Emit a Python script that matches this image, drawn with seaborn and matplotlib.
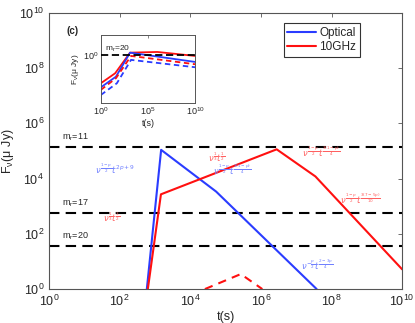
import pandas as pd
import seaborn as sns
import matplotlib.pyplot as plt

# main panel light curves (t in s, flux in micro Jy)
opt_t = [590, 1500, 5.4e4, 3.8e7]
opt_F = [1, 1.1e5, 3.4e3, 1]
rad_t = [630, 1480, 2.8e6, 3.5e7, 1e10]
rad_F = [1, 2.7e3, 1.15e5, 1.2e4, 5.2]
rad2_t = [2.6e4, 2.7e5, 1.1e6]
rad2_F = [1, 3.5, 1]

# limiting magnitudes (AB) -> flux
mags = [11, 17, 20]
mag_F = [3.631e9 * 10 ** (-0.4 * m) for m in mags]

# inset curves
in_rad_t = [1, 33, 1260, 1e6, 1e10]
in_rad_F = [7.6e-5, 2.3e-3, 2.6, 3.3, 0.85]
in_opt_t = [1, 40, 1260, 1e10]
in_opt_F = [1.9e-5, 7.2e-4, 2.6, 0.11]
in_rad2_t = [1, 40, 1600, 1e10]
in_rad2_F = [7.9e-6, 4.2e-4, 0.85, 0.05]
in_opt2_t = [1, 50, 1600, 1e10]
in_opt2_F = [1.4e-6, 7.6e-5, 0.22, 0.018]

sns.set_style('white')
plt.rcParams['font.family'] = ['Liberation Sans', 'DejaVu Sans']
plt.rcParams['mathtext.fontset'] = 'dejavusans'

fig = plt.figure(figsize=(4.15, 3.23), dpi=100)
ax = fig.add_axes([0.118, 0.105, 0.851, 0.855])
ax.set_xscale('log')
ax.set_yscale('log')

blue = '#2a3cff'
red = '#ff1010'

sns.lineplot(x=opt_t, y=opt_F, ax=ax, color=blue, lw=1.5, sort=False, estimator=None)
sns.lineplot(x=rad_t, y=rad_F, ax=ax, color=red, lw=1.5, sort=False, estimator=None)
sns.lineplot(x=rad2_t, y=rad2_F, ax=ax, color=red, lw=1.5, ls=(0, (4, 3)), sort=False, estimator=None)

for m, f in zip(mags, mag_F):
    ax.axhline(f, color='black', lw=1.5, ls=(0, (5, 3)), zorder=1)
    ax.text(5.5, f * 1.35, '$\\mathregular{m_r}$=%d' % m, fontsize=6.5, va='bottom', ha='center')

ax.set_xlim(1, 1e10)
ax.set_ylim(1, 1e10)
ax.set_xticks([1e0, 1e2, 1e4, 1e6, 1e8, 1e10])
ax.set_yticks([1e0, 1e2, 1e4, 1e6, 1e8, 1e10])
ax.minorticks_off()
ax.tick_params(direction='in', top=True, right=True, labelsize=9, length=3, color='#555555', width=0.6)
for s in ax.spines.values():
    s.set_color('#555555')
    s.set_linewidth(0.8)
ax.set_xlabel('t(s)', fontsize=9, labelpad=1)
ax.set_ylabel('$\\mathregular{F_\\nu(\\mu\\ Jy)}$', fontsize=9, labelpad=2)

ax.text(0.05, 0.925, '(c)', transform=ax.transAxes, fontsize=7, fontweight='bold')

lb = '#7080ff'
lr = '#ff6060'
ax.text(2.0e1, 1.5e4, '$\\nu^{\\frac{1-p}{2}}t^{2p+9}$', color=lb, fontsize=6)
ax.text(3.3e1, 2.6e2, '$\\nu^{\\frac{1}{3}}t^{\\frac{3}{2}}$', color=lr, fontsize=6)
ax.text(3.1e4, 4.0e4, '$\\nu^{\\frac{1}{3}}t^{\\frac{1}{2}}$', color=lr, fontsize=6)
ax.text(4.5e4, 1.3e4, '$\\nu^{\\frac{1-p}{2}}t^{\\frac{3(1-p)}{4}}$', color=lb, fontsize=6)
ax.text(1.5e7, 6.0e4, '$\\nu^{\\frac{1-p}{2}}t^{\\frac{3(1-p)}{4}}$', color=lr, fontsize=6)
ax.text(1.7e8, 1.2e3, '$\\nu^{\\frac{1-p}{2}}t^{\\frac{3(7-5p)}{10}}$', color=lr, fontsize=6)
ax.text(1.4e7, 5.0e0, '$\\nu^{-\\frac{p}{2}}t^{\\frac{2-3p}{4}}$', color=lb, fontsize=6)

h1, = ax.plot([], [], color=blue, lw=1.5)
h2, = ax.plot([], [], color=red, lw=1.5)
leg = ax.legend([h1, h2], ['Optical', '10GHz'], loc='upper left', bbox_to_anchor=(0.665, 0.963),
                fontsize=8.5, frameon=True, fancybox=False, handlelength=2.4, handletextpad=0.3,
                borderpad=0.3, labelspacing=0.2, borderaxespad=0)
leg.get_frame().set_edgecolor('black')
leg.get_frame().set_linewidth(0.8)

# inset
ins = fig.add_axes([0.243, 0.682, 0.227, 0.209])
ins.set_xscale('log')
ins.set_yscale('log')
sns.lineplot(x=in_rad_t, y=in_rad_F, ax=ins, color=red, lw=1.3, sort=False, estimator=None)
sns.lineplot(x=in_opt_t, y=in_opt_F, ax=ins, color=blue, lw=1.3, sort=False, estimator=None)
sns.lineplot(x=in_rad2_t, y=in_rad2_F, ax=ins, color=red, lw=1.3, ls=(0, (3, 2)), sort=False, estimator=None)
sns.lineplot(x=in_opt2_t, y=in_opt2_F, ax=ins, color=blue, lw=1.3, ls=(0, (3, 2)), sort=False, estimator=None)
ins.axhline(1, color='black', lw=1.3, ls=(0, (4, 2)), zorder=5)
ins.text(3, 1.4, '$\\mathregular{m_r}$=20', fontsize=6, va='bottom', ha='left')
ins.set_xlim(1, 1e10)
ins.set_ylim(1e-7, 1e3)
ins.set_xticks([1e0, 1e5, 1e10])
ins.set_yticks([1e0])
ins.minorticks_off()
ins.tick_params(direction='in', top=True, right=True, labelsize=6.5, length=2, color='#555555', width=0.5, pad=2)
for s in ins.spines.values():
    s.set_color('#555555')
    s.set_linewidth(0.7)
ins.set_xlabel('t(s)', fontsize=6.5, labelpad=1)
ins.set_ylabel('$\\mathregular{F_\\nu(\\mu\\ Jy)}$', fontsize=6, labelpad=1)

fig.savefig('out.png', dpi=100)
